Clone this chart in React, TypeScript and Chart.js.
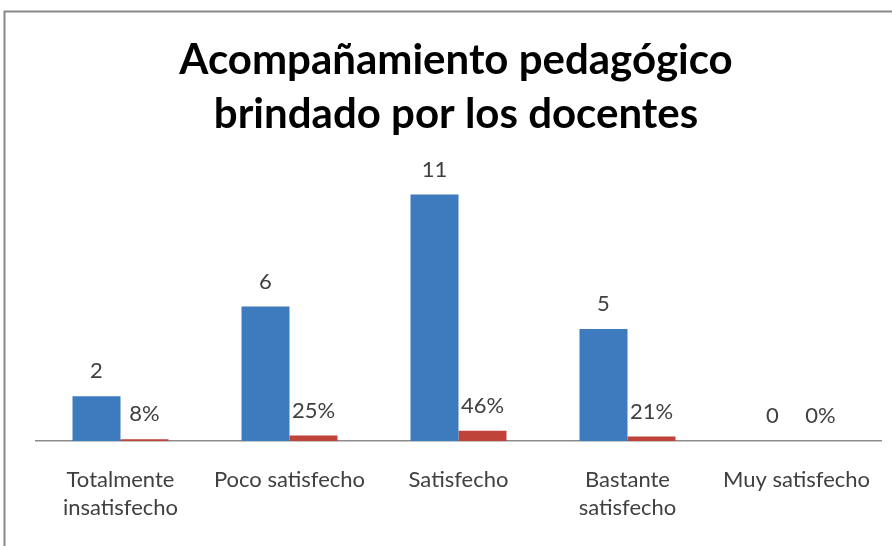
import { useEffect, useRef } from "react";
import { Chart, registerables } from "chart.js";
Chart.register(...registerables);

const categories: (string | string[])[] = [
  ["Totalmente", "insatisfecho"],
  "Poco satisfecho",
  "Satisfecho",
  ["Bastante", "satisfecho"],
  "Muy satisfecho",
];
const counts = [2, 6, 11, 5, 0];
const shares = [0.08, 0.25, 0.46, 0.21, 0];
const titleLines = ["Acompañamiento pedagógico", "brindado por los docentes"];

const countColor = "#3E7BBE";
const shareColor = "#C0433A";
const textColor = "#404040";

export default function App() {
  const ref = useRef<HTMLCanvasElement | null>(null);
  useEffect(() => {
    document.body.style.margin = "0";
    const canvas = ref.current!;
    const framePlugin = {
      id: "frame",
      beforeDraw(chart: any) {
        const ctx = chart.ctx;
        ctx.save();
        ctx.fillStyle = "#ffffff";
        ctx.fillRect(0, 0, chart.width, chart.height);
        ctx.strokeStyle = "#888888";
        ctx.lineWidth = 2;
        ctx.beginPath();
        ctx.moveTo(4.5, chart.height);
        ctx.lineTo(4.5, 11.5);
        ctx.lineTo(chart.width, 11.5);
        ctx.stroke();
        // title
        ctx.fillStyle = "#000000";
        ctx.font = "bold 42px Lato";
        ctx.textAlign = "center";
        ctx.textBaseline = "middle";
        ctx.fillText(titleLines[0], 456, 60);
        ctx.fillText(titleLines[1], 456, 114);
        ctx.restore();
      },
      afterDatasetsDraw(chart: any) {
        const ctx = chart.ctx;
        ctx.save();
        ctx.fillStyle = textColor;
        ctx.font = "22px Lato";
        ctx.textAlign = "center";
        ctx.textBaseline = "middle";
        chart.data.datasets.forEach((ds: any, di: number) => {
          const meta = chart.getDatasetMeta(di);
          meta.data.forEach((el: any, i: number) => {
            const v = ds.data[i];
            const txt = di === 0 ? String(v) : Math.round(v * 100) + "%";
            ctx.fillText(txt, el.x, el.y - 25);
          });
        });
        ctx.restore();
      },
    };
    const chart = new Chart(canvas, {
      type: "bar",
      data: {
        labels: categories,
        datasets: [
          {
            label: "Frecuencia",
            data: counts,
            backgroundColor: countColor,
            barPercentage: 1,
            categoryPercentage: 0.568,
          },
          {
            label: "Porcentaje",
            data: shares,
            backgroundColor: shareColor,
            barPercentage: 1,
            categoryPercentage: 0.568,
          },
        ],
      },
      options: {
        responsive: false,
        animation: false,
        layout: { padding: { left: 36, right: 11, top: 172, bottom: 7 } },
        plugins: {
          legend: { display: false },
          title: { display: false },
          tooltip: { enabled: false },
        },
        scales: {
          y: { display: false, min: 0, max: 12 },
          x: {
            grid: { display: false },
            border: { display: true, color: "#8C8C8C", width: 1.5 },
            ticks: {
              color: textColor,
              font: { family: "Lato", size: 22, lineHeight: 1.27 },
              padding: 17,
              maxRotation: 0,
              minRotation: 0,
              autoSkip: false,
            },
          },
        },
      },
      plugins: [framePlugin],
    });
    return () => chart.destroy();
  }, []);
  return (
    <div style={{ position: "absolute", left: 0, top: 0, width: 892, height: 546 }}>
      <canvas ref={ref} width={892} height={546} />
    </div>
  );
}
